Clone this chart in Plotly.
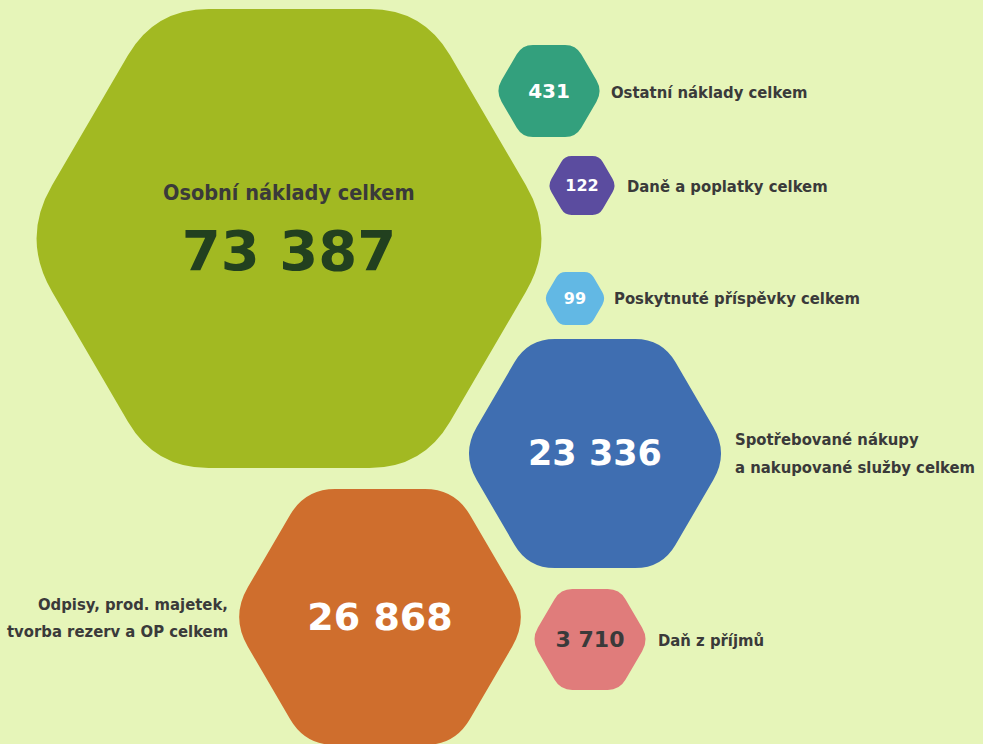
import plotly.graph_objects as go

# ---- data ----
categories = ["Osobní náklady celkem", "Ostatní náklady celkem", "Daně a poplatky celkem",
              "Poskytnuté příspěvky celkem", "Spotřebované nákupy<br>a nakupované služby celkem",
              "Odpisy, prod. majetek,<br>tvorba rezerv a OP celkem", "Daň z příjmů"]
values = [73387, 431, 122, 99, 23336, 26868, 3710]
value_labels = ["73 387", "431", "122", "99", "23 336", "26 868", "3 710"]

# ---- layout / style (positions in pixel-like axis units) ----
colors = ["#a2b922", "#33a07d", "#5b4c9f", "#62b8e4", "#3f6eb1", "#cf6e2d", "#e07c7b"]
centers_x = [289, 549, 582, 575, 595, 380, 590]
centers_y = [238.5, 91, 185.5, 298.5, 453.5, 617, 639.5]
radius = [268, 53.7, 34.5, 31, 133.8, 149.5, 59]
num_size = [56, 20, 16, 16, 35, 38, 22]
num_color = ["#22401f", "white", "white", "white", "white", "white", "#3a3a3a"]
label_pos = [None, (609, 92, "left"), (625, 186, "left"), (612, 298, "left"),
             (733, 453.5, "left"), (230, 618, "right"), (656, 640, "left")]

BG = "#e6f5b9"
LABEL_FONT = "DejaVu Sans Condensed, sans-serif"
NUM_FONT = "DejaVu Sans, sans-serif"
TEXT_DARK = "#3a3a3a"
LINE_GAP = 27.5


def rounded_hex(cx, cy, R):
    hw = R
    hh = 0.856 * R
    t = 0.5 * R
    pts = [(cx - hw, cy), (cx - t, cy - hh), (cx + t, cy - hh),
           (cx + hw, cy), (cx + t, cy + hh), (cx - t, cy + hh)]
    n = len(pts)
    segs = []
    for i in range(n):
        p = pts[i]
        a = pts[i - 1]
        b = pts[(i + 1) % n]
        r = (0.23 if i in (0, 3) else 0.2) * R

        def toward(q):
            dx, dy = q[0] - p[0], q[1] - p[1]
            L = (dx * dx + dy * dy) ** 0.5
            return (p[0] + dx / L * r, p[1] + dy / L * r)
        segs.append((toward(a), p, toward(b)))
    d = "M {:.2f},{:.2f} ".format(*segs[0][0])
    for i, (p1, p, p2) in enumerate(segs):
        if i > 0:
            d += "L {:.2f},{:.2f} ".format(*p1)
        d += "Q {:.2f},{:.2f} {:.2f},{:.2f} ".format(p[0], p[1], p2[0], p2[1])
    d += "Z"
    return d


fig = go.Figure()

shapes = []
for i in range(len(values)):
    shapes.append(dict(type="path", path=rounded_hex(centers_x[i], centers_y[i], radius[i]),
                       xref="x", yref="y", fillcolor=colors[i], line=dict(width=0), layer="below"))

# numbers
for i in range(len(values)):
    y = (251 if i == 0 else centers_y[i]) + 0.09 * num_size[i]
    fig.add_trace(go.Scatter(
        x=[centers_x[i]], y=[y], mode="text", text=[value_labels[i]],
        textfont=dict(family=NUM_FONT, size=num_size[i], color=num_color[i], weight="bold"),
        hovertext=[f"{categories[i].replace('<br>', ' ')}: {values[i]:,}".replace(",", " ")],
        hoverinfo="text", showlegend=False))

annotations = [dict(x=centers_x[0], y=192, xref="x", yref="y", text=categories[0],
                    showarrow=False, xanchor="center", yanchor="middle",
                    font=dict(family=LABEL_FONT, size=21.5, color=TEXT_DARK, weight="bold"))]
for i in range(1, len(values)):
    lx, ly, anc = label_pos[i]
    lines = categories[i].split("<br>")
    y0 = ly - LINE_GAP * (len(lines) - 1) / 2
    for k, line in enumerate(lines):
        annotations.append(dict(x=lx, y=y0 + k * LINE_GAP, xref="x", yref="y", text=line,
                                showarrow=False, xanchor=anc, yanchor="middle", align=anc,
                                font=dict(family=LABEL_FONT, size=16.5, color=TEXT_DARK, weight="bold")))

fig.update_layout(
    width=983, height=744,
    margin=dict(l=0, r=0, t=0, b=0),
    paper_bgcolor=BG, plot_bgcolor=BG,
    shapes=shapes, annotations=annotations,
    xaxis=dict(range=[0, 983], visible=False, fixedrange=True),
    yaxis=dict(range=[744, 0], visible=False, fixedrange=True),
    showlegend=False,
)

fig.write_html("out.html", config={"displayModeBar": False},
               post_script="document.body.style.margin='0';document.body.style.overflow='hidden';"
                           "document.body.style.background='" + BG + "';")
